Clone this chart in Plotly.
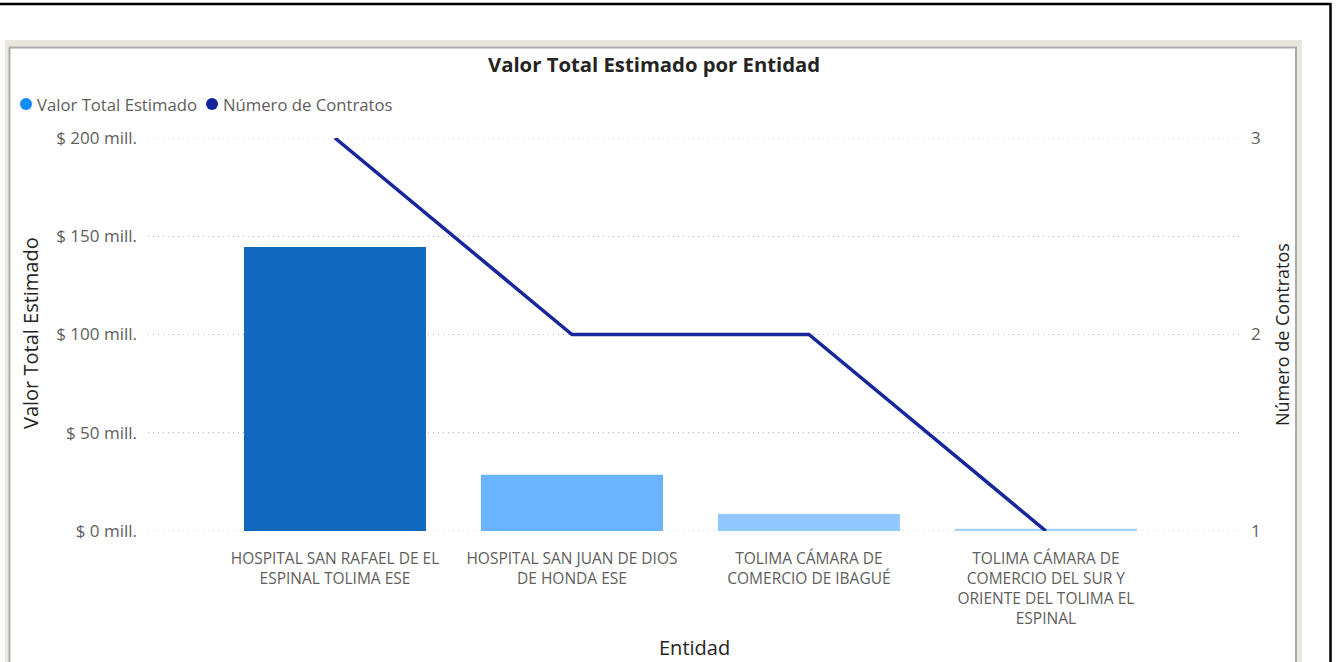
import plotly.graph_objects as go

# ---- data ----
categories = [
    "HOSPITAL SAN RAFAEL DE EL<br>ESPINAL TOLIMA ESE",
    "HOSPITAL SAN JUAN DE DIOS<br>DE HONDA ESE",
    "TOLIMA CÁMARA DE<br>COMERCIO DE IBAGUÉ",
    "TOLIMA CÁMARA DE<br>COMERCIO DEL SUR Y<br>ORIENTE DEL TOLIMA EL<br>ESPINAL",
]
valor_total = [144.5e6, 28.6e6, 8.6e6, 1.1e6]
num_contratos = [3, 2, 2, 1]
bar_colors = ["#1168BF", "#6AB4FF", "#90C8FF", "#A5D1FF"]
y_tickvals = [0, 50e6, 100e6, 150e6, 200e6]
y_ticktext = ["$ 0 mill.", "$ 50 mill.", "$ 100 mill.", "$ 150 mill.", "$ 200 mill."]
y2_tickvals = [1, 2, 3]
legend_names = ["Valor Total Estimado", "Número de Contratos"]
legend_colors = ["#118DFF", "#12239E"]

W, H = 1337, 662
L, R, T, B = 148, 97, 138, 131
PW, PH = W - L - R, H - T - B

def xp(px):
    return (px - L) / PW

def yp(py):
    return (H - B - py) / PH

FONT = "Segoe UI, Open Sans, sans-serif"
GRID_COLOR = "#B8B6B4"
GRID_DASH = "1px,4px"
xs = list(range(len(categories)))

fig = go.Figure()
fig.add_trace(go.Bar(
    x=xs, y=valor_total, marker=dict(color=bar_colors, line=dict(width=0)),
    width=0.768, name=legend_names[0], showlegend=False,
))
fig.add_trace(go.Scatter(
    x=xs, y=num_contratos, mode="lines", yaxis="y2",
    line=dict(color="#17269B", width=3.5), name=legend_names[1],
    showlegend=False,
))

shapes = [
    dict(type="rect", xref="paper", yref="paper", x0=xp(5), x1=xp(1302), y0=yp(40), y1=yp(670),
         fillcolor="#E9E7DD", line=dict(width=0), layer="below"),
    dict(type="rect", xref="paper", yref="paper", x0=xp(9.5), x1=xp(1296), y0=yp(47.5), y1=yp(680),
         fillcolor="#FFFFFF", line=dict(color="#ABABAB", width=2), layer="below"),
    dict(type="line", xref="paper", yref="paper", x0=xp(0), x1=xp(1331), y0=yp(4), y1=yp(4),
         line=dict(color="#000000", width=2.5), layer="below"),
    dict(type="line", xref="paper", yref="paper", x0=xp(1330.5), x1=xp(1330.5), y0=yp(3), y1=yp(670),
         line=dict(color="#000000", width=2.5), layer="below"),
]
# edge gridlines (plotly omits gridlines lying on the range edges)
for v in (y_tickvals[0], y_tickvals[-1]):
    shapes.append(dict(type="line", xref="paper", yref="y", x0=0, x1=1, y0=v, y1=v,
                       line=dict(color=GRID_COLOR, width=1.2, dash=GRID_DASH), layer="below"))
# legend markers
legend_x = [26, 212]
for cx, col in zip(legend_x, legend_colors):
    shapes.append(dict(type="circle", xref="paper", yref="paper",
                       x0=xp(cx - 6), x1=xp(cx + 6), y0=yp(110), y1=yp(98),
                       fillcolor=col, line=dict(width=0)))

annotations = [
    dict(text="<b>Valor Total Estimado por Entidad</b>", x=xp(654), y=yp(64), xref="paper", yref="paper",
         showarrow=False, font=dict(family=FONT, size=20.3, color="#252423"), xanchor="center", yanchor="middle"),
    dict(text="Valor Total Estimado por Entidad" and "Entidad", x=xp(694), y=yp(647), xref="paper", yref="paper",
         showarrow=False, font=dict(family=FONT, size=20, color="#252423"), xanchor="center", yanchor="middle"),
    dict(text="Valor Total Estimado", x=xp(30), y=yp(333), xref="paper", yref="paper", showarrow=False,
         textangle=-90, font=dict(family=FONT, size=20, color="#252423"), xanchor="center", yanchor="middle"),
    dict(text="Número de Contratos", x=xp(1282), y=yp(335), xref="paper", yref="paper", showarrow=False,
         textangle=-90, font=dict(family=FONT, size=18, color="#252423"), xanchor="center", yanchor="middle"),
]
for cx, name in zip(legend_x, legend_names):
    annotations.append(dict(text=name, x=xp(cx + 9), y=yp(104), xref="paper", yref="paper", showarrow=False,
                            font=dict(family=FONT, size=16.7, color="#605E5C"),
                            xanchor="left", yanchor="middle"))

fig.update_layout(
    width=W, height=H, margin=dict(l=L, r=R, t=T, b=B, autoexpand=False),
    paper_bgcolor="#FFFFFF", plot_bgcolor="rgba(0,0,0,0)",
    font=dict(family=FONT, color="#605E5C"),
    shapes=shapes, annotations=annotations, showlegend=False,
    xaxis=dict(range=[-0.789, 3.819], tickvals=xs, ticktext=categories, showgrid=False,
               zeroline=False, showline=False, ticks="", tickangle=0,
               tickfont=dict(family=FONT, size=15.5, color="#605E5C"), ticklabelstandoff=16),
    yaxis=dict(range=[0, 200e6], tickvals=y_tickvals, ticktext=y_ticktext,
               showgrid=True, gridcolor=GRID_COLOR, griddash=GRID_DASH, gridwidth=1.2, zeroline=False,
               showline=False, ticks="", tickfont=dict(family=FONT, size=17, color="#605E5C"),
               ticklabelstandoff=10),
    yaxis2=dict(range=[1, 3], tickvals=y2_tickvals, overlaying="y", side="right",
                showgrid=False, zeroline=False, showline=False, ticks="",
                tickfont=dict(family=FONT, size=17, color="#605E5C"), ticklabelstandoff=10),
)

fig.write_html("out.html", config={"displayModeBar": False},
               post_script="document.body.style.margin='0';")
